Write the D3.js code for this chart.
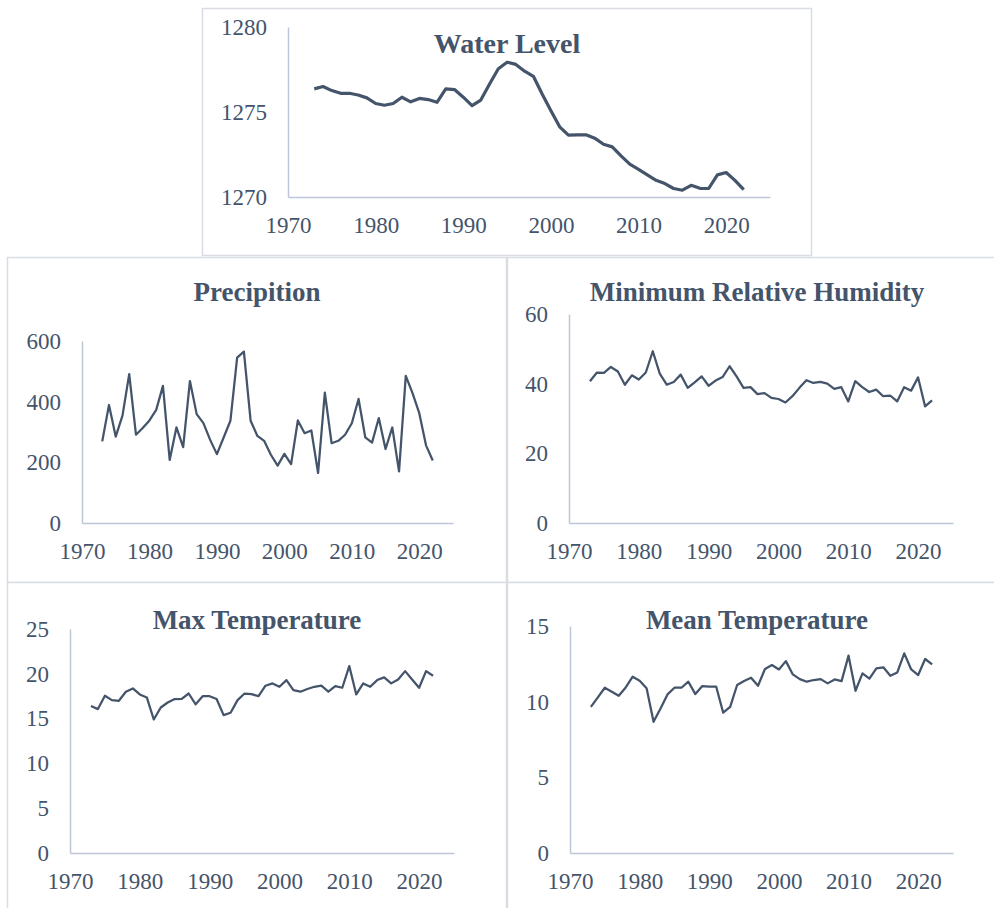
<!DOCTYPE html>
<html>
<head>
<meta charset="utf-8">
<script src="https://cdn.jsdelivr.net/npm/d3@7/dist/d3.min.js"></script>
<style>
  body { margin: 0; background: #fff; }
  svg { display: block; }
  text { font-family: "Liberation Serif", "Times New Roman", serif; }
</style>
</head>
<body>
<svg id="chart" width="994" height="908"></svg>
<script>
// years on the x axis
const years = [1973, 1974, 1975, 1976, 1977, 1978, 1979, 1980, 1981, 1982,
  1983, 1984, 1985, 1986, 1987, 1988, 1989, 1990, 1991, 1992,
  1993, 1994, 1995, 1996, 1997, 1998, 1999, 2000, 2001, 2002,
  2003, 2004, 2005, 2006, 2007, 2008, 2009, 2010, 2011, 2012,
  2013, 2014, 2015, 2016, 2017, 2018, 2019, 2020, 2021, 2022];

const waterLevel = [1276.36, 1276.5, 1276.26, 1276.1, 1276.1, 1276.0, 1275.83, 1275.5, 1275.4, 1275.5,
  1275.87, 1275.6, 1275.8, 1275.73, 1275.57, 1276.36, 1276.32, 1275.87, 1275.37, 1275.7,
  1276.65, 1277.54, 1277.93, 1277.8, 1277.4, 1277.1, 1276.06, 1275.08, 1274.13, 1273.64,
  1273.66, 1273.66, 1273.46, 1273.1, 1272.95, 1272.42, 1271.93, 1271.63, 1271.3, 1270.98,
  1270.79, 1270.5, 1270.4, 1270.69, 1270.51, 1270.5, 1271.3, 1271.44, 1270.98, 1270.43];

const precipitation = [269, 389, 285, 354, 491, 291, 313, 338, 373, 452,
  208, 315, 250, 468, 359, 329, 274, 227, 282, 337,
  545, 565, 337, 287, 271, 225, 189, 228, 194, 338,
  296, 305, 165, 430, 263, 271, 291, 329, 409, 282,
  265, 346, 244, 315, 170, 485, 428, 362, 256, 206];

const minHumidity = [40.7, 43.2, 43.1, 44.8, 43.5, 39.7, 42.4, 41.2, 43.2, 49.3,
  42.9, 39.7, 40.5, 42.6, 38.8, 40.4, 42.1, 39.4, 40.9, 41.9,
  45.0, 42.1, 38.8, 39.0, 37.0, 37.3, 35.9, 35.6, 34.6, 36.4,
  38.8, 41.0, 40.2, 40.5, 40.0, 38.5, 39.0, 34.9, 40.7, 39.0,
  37.6, 38.3, 36.4, 36.6, 34.9, 39.0, 38.0, 41.8, 33.5, 35.2];

const maxTemp = [16.4, 16.06, 17.55, 17.06, 16.99, 18.0, 18.37, 17.7, 17.36, 14.9,
  16.24, 16.8, 17.18, 17.21, 17.8, 16.6, 17.5, 17.5, 17.18, 15.39,
  15.65, 17.06, 17.8, 17.73, 17.5, 18.67, 18.93, 18.55, 19.3, 18.18,
  18.0, 18.3, 18.55, 18.67, 18.0, 18.63, 18.44, 20.86, 17.7, 18.93,
  18.55, 19.3, 19.6, 18.93, 19.37, 20.3, 19.37, 18.44, 20.3, 19.78];

const meanTemp = [9.66, 10.28, 10.92, 10.66, 10.39, 10.94, 11.65, 11.38, 10.88, 8.67,
  9.55, 10.48, 10.92, 10.92, 11.32, 10.5, 11.03, 10.99, 10.99, 9.27,
  9.66, 11.1, 11.36, 11.58, 11.05, 12.16, 12.42, 12.13, 12.68, 11.8,
  11.49, 11.32, 11.43, 11.49, 11.21, 11.47, 11.36, 13.04, 10.72, 11.87,
  11.52, 12.2, 12.27, 11.71, 11.93, 13.19, 12.13, 11.76, 12.82, 12.46];

const xTicks = [1970, 1980, 1990, 2000, 2010, 2020];
const waterTicks = [1270, 1275, 1280];
const precipTicks = [0, 200, 400, 600];
const humidityTicks = [0, 20, 40, 60];
const maxTempTicks = [0, 5, 10, 15, 20, 25];
const meanTempTicks = [0, 5, 10, 15];

const textColor = '#44546a';
const lineColor = '#44546a';
const axisColor = '#bcc6d6';
const borderColor = '#d9dde3';

const svg = d3.select('#chart');

// layout of each panel (box = border, plot = axis area)
const panels = [
  { title: 'Water Level', values: waterLevel, ticks: waterTicks,
    box: [202.5, 8.5, 609, 247], plot: { left: 288, right: 770, top: 27, bottom: 197 },
    titleX: 507, titleY: 53, titleSize: 28, width: 3.2 },
  { title: 'Precipition', values: precipitation, ticks: precipTicks,
    box: [7.5, 257.5, 499, 325], plot: { left: 82, right: 453, top: 341, bottom: 523 },
    titleX: 257, titleY: 301, titleSize: 27, width: 2.25 },
  { title: 'Minimum Relative Humidity', values: minHumidity, ticks: humidityTicks,
    box: [507.5, 257.5, 495, 325], plot: { left: 569, right: 953, top: 314, bottom: 523 },
    titleX: 757, titleY: 301, titleSize: 27, width: 2.25 },
  { title: 'Max Temperature', values: maxTemp, ticks: maxTempTicks,
    box: [7.5, 582.5, 499, 335], plot: { left: 70, right: 454, top: 629, bottom: 853 },
    titleX: 257, titleY: 629, titleSize: 27, width: 2.25 },
  { title: 'Mean Temperature', values: meanTemp, ticks: meanTempTicks,
    box: [507.5, 582.5, 495, 335], plot: { left: 570, right: 953, top: 626, bottom: 853 },
    titleX: 757, titleY: 629, titleSize: 27, width: 2.25 }
];

panels.forEach(p => {
  const g = svg.append('g');

  g.append('rect')
    .attr('x', p.box[0]).attr('y', p.box[1])
    .attr('width', p.box[2]).attr('height', p.box[3])
    .attr('fill', '#fff')
    .attr('stroke', borderColor)
    .attr('stroke-width', 1.5);

  const x = d3.scaleLinear([1970, 2025], [p.plot.left, p.plot.right]);
  const y = d3.scaleLinear(d3.extent(p.ticks), [p.plot.bottom, p.plot.top]);

  const xAxis = g.append('g')
    .attr('transform', `translate(0, ${p.plot.bottom})`)
    .call(d3.axisBottom(x).tickValues(xTicks).tickFormat(d3.format('d'))
      .tickSize(0).tickSizeOuter(0).tickPadding(20));

  const yAxis = g.append('g')
    .attr('transform', `translate(${p.plot.left}, 0)`)
    .call(d3.axisLeft(y).tickValues(p.ticks).tickFormat(d3.format('d'))
      .tickSize(0).tickSizeOuter(0).tickPadding(21));

  [xAxis, yAxis].forEach(a => {
    a.select('.domain').attr('stroke', axisColor).attr('stroke-width', 1.5);
    a.selectAll('text')
      .attr('fill', textColor)
      .style('font-size', '23px');
  });

  const line = d3.line()
    .x((d, i) => x(years[i]))
    .y(d => y(d));

  g.append('path')
    .datum(p.values)
    .attr('d', line)
    .attr('fill', 'none')
    .attr('stroke', lineColor)
    .attr('stroke-width', p.width)
    .attr('stroke-linejoin', 'round');

  g.append('text')
    .attr('x', p.titleX)
    .attr('y', p.titleY)
    .attr('text-anchor', 'middle')
    .attr('fill', textColor)
    .style('font-size', `${p.titleSize}px`)
    .style('font-weight', 'bold')
    .text(p.title);
});
</script>
</body>
</html>
